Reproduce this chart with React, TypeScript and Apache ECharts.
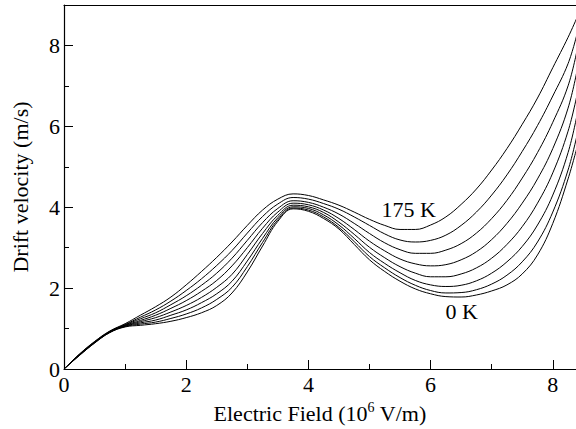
import React, { useEffect, useRef } from "react";
import * as echarts from "echarts";

// Electric field (10^6 V/m) sample positions
const fieldX = [0, 0.25, 0.5, 0.75, 1.0, 1.25, 1.5, 1.75, 2.0, 2.25, 2.5, 2.75, 3.0, 3.25, 3.5, 3.75, 4.0, 4.25, 4.5, 4.75, 5.0, 5.25, 5.5, 5.75, 6.0, 6.25, 6.5, 6.75, 7.0, 7.25, 7.5, 7.75, 8.0, 8.25, 8.4];

// Drift velocity (m/s) for each temperature
const v0K = [0, 0.33, 0.64, 0.9, 1.04, 1.08, 1.12, 1.18, 1.27, 1.39, 1.57, 1.88, 2.4, 3.04, 3.65, 3.96, 3.9, 3.72, 3.46, 3.08, 2.7, 2.41, 2.17, 1.98, 1.86, 1.79, 1.78, 1.83, 1.93, 2.08, 2.35, 2.82, 3.6, 4.7, 5.5];
const v25K = [0, 0.335, 0.645, 0.905, 1.05, 1.11, 1.16, 1.25, 1.36, 1.51, 1.72, 2.02, 2.53, 3.13, 3.69, 3.98, 3.93, 3.76, 3.5, 3.15, 2.78, 2.5, 2.26, 2.07, 1.94, 1.88, 1.89, 1.96, 2.1, 2.32, 2.65, 3.14, 3.88, 4.92, 5.8];
const v50K = [0, 0.34, 0.65, 0.91, 1.06, 1.14, 1.21, 1.33, 1.46, 1.64, 1.86, 2.17, 2.67, 3.23, 3.74, 4.01, 3.97, 3.81, 3.56, 3.23, 2.88, 2.61, 2.38, 2.19, 2.08, 2.04, 2.07, 2.18, 2.37, 2.65, 3.03, 3.56, 4.3, 5.35, 6.3];
const v75K = [0, 0.345, 0.655, 0.915, 1.07, 1.17, 1.27, 1.41, 1.57, 1.77, 2.02, 2.34, 2.83, 3.35, 3.8, 4.05, 4.01, 3.87, 3.63, 3.33, 3.01, 2.75, 2.53, 2.37, 2.28, 2.28, 2.35, 2.5, 2.74, 3.08, 3.52, 4.1, 4.85, 5.88, 6.8];
const v100K = [0, 0.35, 0.66, 0.92, 1.08, 1.2, 1.33, 1.5, 1.69, 1.92, 2.19, 2.55, 3.0, 3.48, 3.88, 4.1, 4.06, 3.93, 3.72, 3.45, 3.16, 2.92, 2.72, 2.6, 2.55, 2.58, 2.7, 2.9, 3.2, 3.6, 4.1, 4.7, 5.45, 6.45, 7.4];
const v125K = [0, 0.355, 0.665, 0.925, 1.09, 1.24, 1.39, 1.59, 1.81, 2.07, 2.37, 2.74, 3.18, 3.62, 3.97, 4.16, 4.12, 4.0, 3.83, 3.6, 3.35, 3.12, 2.95, 2.86, 2.86, 2.94, 3.1, 3.36, 3.72, 4.17, 4.72, 5.35, 6.1, 7.0, 7.9];
const v150K = [0, 0.36, 0.67, 0.93, 1.1, 1.28, 1.46, 1.68, 1.94, 2.23, 2.56, 2.93, 3.36, 3.77, 4.08, 4.24, 4.2, 4.09, 3.95, 3.76, 3.55, 3.34, 3.19, 3.14, 3.18, 3.31, 3.55, 3.88, 4.3, 4.8, 5.38, 6.02, 6.75, 7.55, 8.3];
const v175K = [0, 0.365, 0.68, 0.94, 1.12, 1.33, 1.54, 1.78, 2.08, 2.41, 2.76, 3.14, 3.55, 3.93, 4.2, 4.33, 4.29, 4.18, 4.05, 3.88, 3.7, 3.55, 3.45, 3.45, 3.56, 3.76, 4.07, 4.45, 4.92, 5.45, 6.05, 6.7, 7.45, 8.2, 8.7];

const temperatures = ["0 K", "25 K", "50 K", "75 K", "100 K", "125 K", "150 K", "175 K"];
const curves = [v0K, v25K, v50K, v75K, v100K, v125K, v150K, v175K];

const majorXTicks = [0, 2, 4, 6, 8];
const minorXTicks = [1, 3, 5, 7];
const majorYTicks = [0, 2, 4, 6, 8];
const minorYTicks = [1, 3, 5, 7];

// label anchor points (data coordinates)
const label175 = [5.64, 3.95];
const label0 = [6.51, 1.43];

const FONT = "Liberation Serif";

export default function App() {
  const ref = useRef<HTMLDivElement>(null);
  useEffect(() => {
    if (!ref.current) return;
    const el = ref.current;
    const chart = echarts.init(el, undefined, { renderer: "svg" });
    const series: any[] = curves.map((vals, i) => {
      const s: any = {
        name: temperatures[i],
        type: "line",
        data: fieldX.map((x, j) => [x, vals[j]]),
        showSymbol: false,
        smooth: 0.4,
        lineStyle: { color: "#000", width: 1 },
      };
      if (i === 7 || i === 0) {
        const c = i === 7 ? label175 : label0;
        s.markPoint = {
          symbol: "circle",
          symbolSize: 0,
          data: [{ coord: c, value: temperatures[i] }],
          label: {
            show: true,
            position: "inside",
            formatter: temperatures[i],
            color: "#000",
            fontFamily: FONT,
            fontSize: 22,
          },
        };
      }
      return s;
    });
    chart.setOption({
      animation: false,
      textStyle: { fontFamily: FONT },
      grid: { left: 64, right: 0, top: 5, bottom: 60 },
      xAxis: [
        {
          type: "value",
          min: 0,
          max: 8.38,
          position: "bottom",
          name: "Electric Field (10{sup|6} V/m)",
          nameLocation: "middle",
          nameGap: 31,
          nameTextStyle: {
            color: "#000",
            fontFamily: FONT,
            fontSize: 22,
            rich: {
              sup: { fontFamily: FONT, fontSize: 14, color: "#000", verticalAlign: "top", padding: [0, 0, 12, 0] },
            },
          },
          axisLine: { show: true, lineStyle: { color: "#000", width: 1.2 } },
          axisTick: { show: true, inside: true, length: 9, customValues: majorXTicks, lineStyle: { color: "#000" } },
          axisLabel: { show: true, customValues: majorXTicks, margin: 4, color: "#000", fontFamily: FONT, fontSize: 22 },
          splitLine: { show: false },
        },
        {
          type: "value",
          min: 0,
          max: 8.38,
          position: "bottom",
          axisLine: { show: false },
          axisTick: { show: true, inside: true, length: 5, customValues: minorXTicks, lineStyle: { color: "#000" } },
          axisLabel: { show: false },
          splitLine: { show: false },
        },
        {
          type: "value",
          min: 0,
          max: 8.38,
          position: "top",
          axisLine: { show: true, lineStyle: { color: "#000", width: 1.2 } },
          axisTick: { show: false },
          axisLabel: { show: false },
          splitLine: { show: false },
        },
      ],
      yAxis: [
        {
          type: "value",
          min: 0,
          max: 9,
          position: "left",
          name: "Drift velocity (m/s)",
          nameLocation: "middle",
          nameGap: 33,
          nameTextStyle: { color: "#000", fontFamily: FONT, fontSize: 22 },
          axisLine: { show: true, lineStyle: { color: "#000", width: 1.2 } },
          axisTick: { show: true, inside: true, length: 9, customValues: majorYTicks, lineStyle: { color: "#000" } },
          axisLabel: { show: true, customValues: majorYTicks, margin: 4, color: "#000", fontFamily: FONT, fontSize: 22 },
          splitLine: { show: false },
        },
        {
          type: "value",
          min: 0,
          max: 9,
          position: "left",
          axisLine: { show: false },
          axisTick: { show: true, inside: true, length: 5, customValues: minorYTicks, lineStyle: { color: "#000" } },
          axisLabel: { show: false },
          splitLine: { show: false },
        },
      ],
      series,
    });
    // make sure every SVG text uses the serif family
    const applyFont = () => {
      el.querySelectorAll("text, tspan").forEach((t: any) => {
        t.style.setProperty("font-family", '"Liberation Serif", "Times New Roman", serif', "important");
      });
    };
    applyFont();
    chart.on("finished", applyFont);
    return () => chart.dispose();
  }, []);
  return (
    <div style={{ position: "absolute", left: 0, top: 0, width: 576, height: 429, background: "#fff" }}>
      <div ref={ref} style={{ width: 576, height: 429 }} />
    </div>
  );
}
